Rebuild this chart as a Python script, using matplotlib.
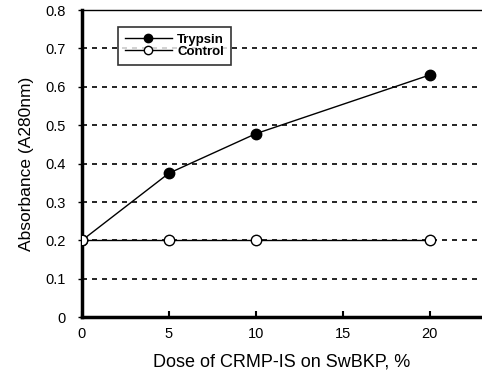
import matplotlib
matplotlib.use("Agg")
import matplotlib.pyplot as plt

dose = [0, 5, 10, 20]
trypsin = [0.2, 0.375, 0.478, 0.631]
control = [0.2, 0.2, 0.2, 0.2]
y_ticks = [0, 0.1, 0.2, 0.3, 0.4, 0.5, 0.6, 0.7, 0.8]
x_ticks = [0, 5, 10, 15, 20]

plt.rcParams['font.family'] = ['Liberation Sans', 'DejaVu Sans']

fig = plt.figure(figsize=(4.82, 3.74), dpi=100)
ax = fig.add_axes([0.17, 0.152, 0.83, 0.821])

# dashed horizontal grid
for y in y_ticks[1:-1]:
    ax.axhline(y, color='black', lw=1.2, ls=(0, (3, 3)), zorder=1)

ax.plot(dose, trypsin, color='black', lw=1, marker='o', ms=7.5,
        mfc='black', mec='black', label='Trypsin', zorder=3)
ax.plot(dose, control, color='black', lw=1, marker='o', ms=7.5,
        mfc='white', mec='black', mew=1, label='Control', zorder=3)

ax.set_xlim(0, 23)
ax.set_ylim(0, 0.8)
ax.set_xticks(x_ticks)
ax.set_yticks(y_ticks)
ax.set_yticklabels(['0'] + ['%.1f' % v for v in y_ticks[1:]])
ax.tick_params(axis='x', direction='in', length=4, width=1.5, labelsize=10.5, pad=7)
ax.tick_params(axis='y', direction='out', length=3, width=1, labelsize=10.5, pad=9)

for s in ['left', 'bottom']:
    ax.spines[s].set_linewidth(2.5)
ax.spines['top'].set_linewidth(1)
ax.spines['right'].set_visible(False)

ax.set_xlabel('Dose of CRMP-IS on SwBKP, %', fontsize=13, labelpad=9)
ax.set_ylabel('Absorbance (A280nm)', fontsize=12.5, labelpad=8)

leg = ax.legend(loc='upper left', bbox_to_anchor=(0.09, 0.945), borderaxespad=0,
                frameon=True, fancybox=False, edgecolor='black',
                borderpad=0.5, handlelength=3.6, labelspacing=0.0,
                handletextpad=0.4, markerscale=0.8,
                prop={'weight': 'bold', 'size': 9.5})
leg.get_frame().set_linewidth(1.2)

fig.savefig('out.png', dpi=100)
